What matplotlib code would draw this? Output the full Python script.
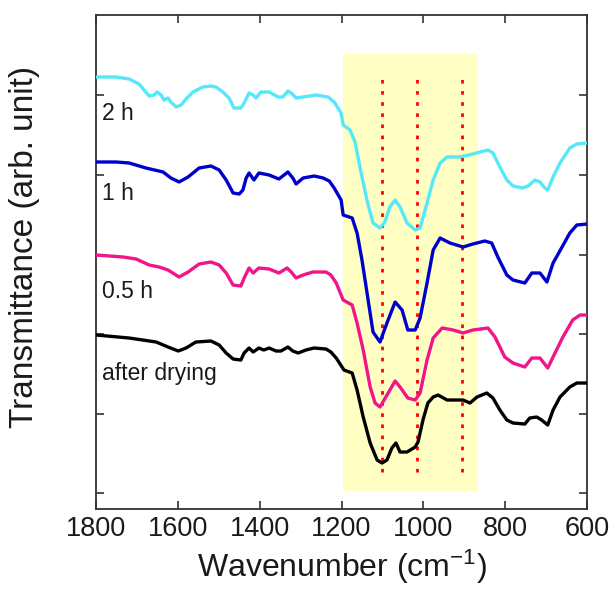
import matplotlib
matplotlib.use("Agg")
import matplotlib.pyplot as plt
from matplotlib.patches import Rectangle

plt.rcParams['font.family'] = ['Liberation Sans', 'DejaVu Sans']
plt.rcParams['mathtext.default'] = 'regular'

# ---- data (wavenumber in cm^-1, transmittance in arb. units incl. vertical offset) ----
wn_2h = [1800,1751,1719,1695,1670,1658,1651,1641,1634,1624,1617,1604,1592,1580,1563,1539,1519,1507,1490,1475,
         1463,1446,1438,1426,1416,1409,1397,1377,1355,1343,1331,1323,1311,1294,1262,1233,1218,1201,1196,1179,
         1167,1155,1138,1123,1106,1094,1082,1069,1057,1040,1020,1008,991,976,959,942,911,879,862,842,
         830,813,796,781,757,744,727,715,703,696,683,666,642,625,600]
t_2h = [432,432,430,425,413,414,417,414,409,411,407,402,404,410,417,422,423,422,417,411,
        401,401,406,416,414,411,417,417,412,412,418,416,411,412,414,412,407,396,384,379,
        367,342,309,286,281,287,302,309,302,286,279,281,306,329,346,352,352,355,357,359,
        356,342,329,323,321,323,329,327,321,319,332,346,361,365,366]

wn_1h = [1800,1751,1719,1678,1636,1617,1597,1575,1548,1519,1499,1482,1465,1450,1441,1433,1426,1414,1402,1377,
         1353,1331,1319,1311,1294,1267,1245,1230,1218,1201,1196,1174,1162,1150,1135,1123,1106,1089,1069,1052,
         1038,1020,1008,991,976,959,935,903,879,850,833,818,796,781,752,735,715,698,683,661,642,625,600]
t_1h = [347,347,346,341,337,331,327,332,341,343,339,329,316,315,319,331,336,329,336,334,
        330,337,331,325,331,333,331,328,321,309,294,291,276,249,209,177,167,186,207,199,
        179,179,191,226,259,271,266,262,265,268,266,252,234,229,226,236,236,227,246,262,276,284,285]

wn_05h = [1800,1734,1702,1670,1646,1624,1597,1575,1548,1519,1499,1482,1465,1446,1438,1426,1416,1402,1377,1353,
          1333,1323,1311,1294,1270,1238,1226,1213,1196,1174,1162,1147,1130,1118,1106,1086,1069,1057,1038,1020,
          1008,991,976,954,927,903,879,842,825,801,781,752,735,715,696,683,659,635,617,600]
t_05h = [254,252,250,244,242,239,232,237,245,247,244,236,224,223,231,241,236,241,240,236,
         241,237,231,234,237,237,234,226,209,204,186,159,122,106,102,116,128,122,111,109,
         116,149,171,181,179,176,179,181,172,152,146,142,151,151,141,152,172,189,194,194]

wn_dry = [1800,1719,1653,1624,1599,1580,1556,1519,1499,1482,1465,1446,1438,1426,1416,1402,1390,1377,1360,1348,
          1331,1319,1306,1287,1267,1238,1226,1213,1194,1174,1162,1147,1130,1113,1101,1089,1077,1067,1057,1040,
          1020,1013,1001,989,976,964,942,923,903,886,869,845,830,813,796,781,752,740,723,711,696,683,666,642,625,600]
t_dry = [174,171,167,162,158,161,167,168,164,156,150,149,156,161,157,161,159,161,158,158,
         162,158,156,159,161,160,157,151,139,136,119,92,66,49,46,49,61,66,57,57,
         62,67,89,106,112,114,109,109,109,106,112,116,111,99,89,86,85,91,92,89,84,99,112,122,126,126]

series_labels = ["2 h", "1 h", "0.5 h", "after drying"]
series_colors = ["#55E8F8", "#0000CC", "#F0158A", "#000000"]
label_y = [389, 309, 211, 129]

highlight_range = (1196, 866)
marker_wn = [1101, 1016, 905]

xticks = [1800, 1600, 1400, 1200, 1000, 800, 600]
yticks = [16, 95.5, 175, 254.5, 334, 413.5]

# ---- figure ----
fig = plt.figure(figsize=(6.12, 5.95), dpi=100)
ax = fig.add_axes([0.1569, 0.1445, 0.8023, 0.8303])

ax.add_patch(Rectangle((highlight_range[1], 18), highlight_range[0] - highlight_range[1], 437,
                       facecolor="#FFFFC4", edgecolor="none", zorder=0))
for w in marker_wn:
    ax.plot([w, w], [37, 434], color="#FF0000", lw=2.0, linestyle=(0, (1.3, 2.7)), zorder=1)

for wn, t, c in [(wn_2h, t_2h, series_colors[0]), (wn_1h, t_1h, series_colors[1]),
                 (wn_05h, t_05h, series_colors[2]), (wn_dry, t_dry, series_colors[3])]:
    ax.plot(wn, t, color=c, lw=2.4, zorder=3, solid_joinstyle='round', solid_capstyle='round')

for lab, ly in zip(series_labels, label_y):
    ax.text(1785, ly, lab, fontsize=16.5, color="#1a1a1a", va="baseline", ha="left", zorder=4)

ax.set_xlim(1800, 600)
ax.set_ylim(0, 494)
ax.set_xticks(xticks)
ax.set_yticks(yticks)
ax.set_yticklabels([])
ax.tick_params(axis='both', direction='in', length=6, width=1.2, color="#333333",
               top=True, right=True, labelsize=19.5, labelcolor="#1a1a1a", pad=5)
for s in ax.spines.values():
    s.set_color("#333333")
    s.set_linewidth(1.3)

ax.set_xlabel("Wavenumber (cm$^{-1}$)", fontsize=23, color="#1a1a1a", labelpad=4)
ax.set_ylabel("Transmittance (arb. unit)", fontsize=24, color="#1a1a1a")
ax.yaxis.set_label_coords(-0.115, 0.53)

fig.savefig("out.png", dpi=100)
